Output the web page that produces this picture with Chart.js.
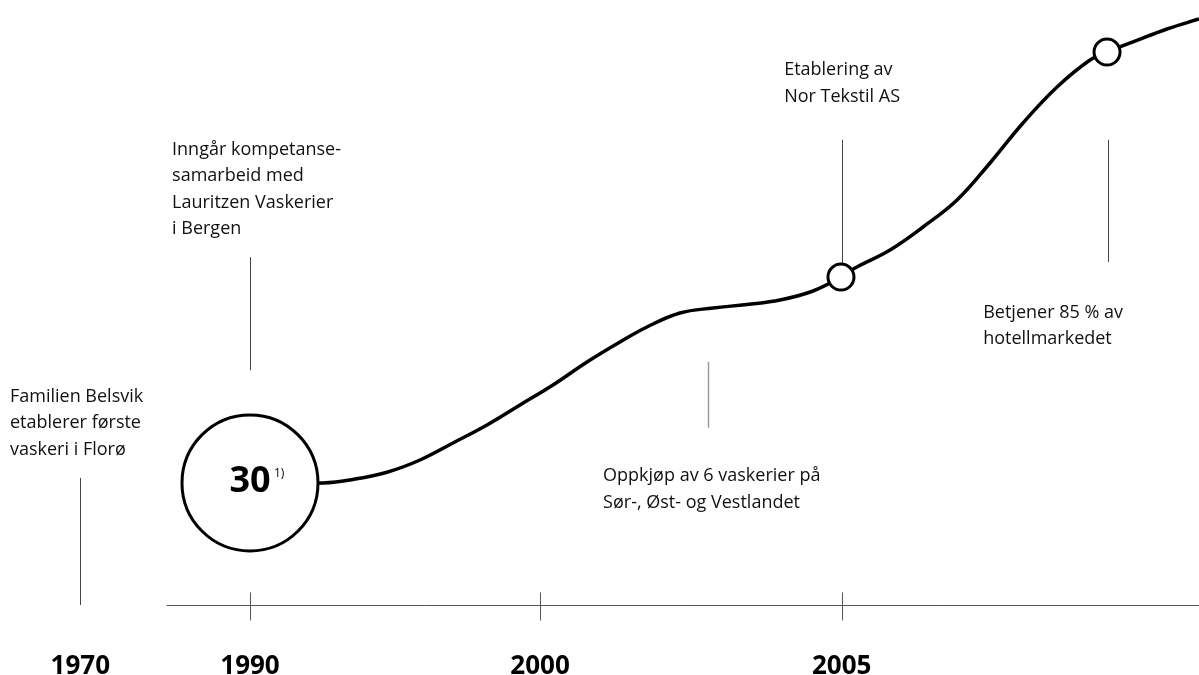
<!DOCTYPE html>
<html>
<head>
<meta charset="utf-8">
<script src="https://cdn.jsdelivr.net/npm/chart.js@4"></script>
<style>
  html, body { margin: 0; padding: 0; background: #fff; }
</style>
</head>
<body>
<canvas id="timeline-chart" width="1199" height="675"></canvas>
<script>
// curve, in timeline units (x 0-100 along the axis, y 0-100 above it)
const curveX = [20.85, 26.94, 29.44, 32.28, 35.03, 37.78, 40.62, 43.37, 46.12, 48.96, 51.71, 53.96, 56.71, 59.47, 62.30, 65.05, 67.81, 70.14, 71.31, 74.23, 76.98, 79.82, 82.57, 85.32, 88.16, 90.91, 92.33, 94.50, 97.33, 100];
const curveY = [20.17, 20.17, 20.75, 21.95, 23.97, 26.78, 29.75, 33.06, 36.36, 40.17, 43.47, 45.95, 48.26, 49.09, 49.67, 50.41, 51.90, 54.21, 55.70, 58.68, 62.48, 66.94, 73.06, 79.67, 85.62, 90.08, 91.40, 93.06, 95.21, 96.86];

// milestone circles on the curve
const milestoneX = [20.85, 70.14, 92.33];
const milestoneY = [20.17, 54.21, 91.40];
const milestoneSize = [68, 13, 13];

// x axis ticks
const tickPos = [6.7, 20.85, 45.04, 70.2];
const tickLabels = ['1970', '1990', '2000', '2005'];
const axisStart = 13.9;

// event notes: vertical marker and text
const noteX = [6.7, 20.85, 59.05, 70.2, 92.4];
const noteFrom = [0, 38.8, 29.3, 55.7, 56.7];
const noteTo = [21.0, 57.5, 40.2, 76.9, 76.9];
const noteText = [
  ['Familien Belsvik', 'etablerer første', 'vaskeri i Florø'],
  ['Inngår kompetanse-', 'samarbeid med', 'Lauritzen Vaskerier', 'i Bergen'],
  ['Oppkjøp av 6 vaskerier på', 'Sør-, Øst- og Vestlandet'],
  ['Etablering av', 'Nor Tekstil AS'],
  ['Betjener 85 % av', 'hotellmarkedet']
];
// layout of the note texts (left edge, first line centre) and marker colours
const noteTextLeft = [0.83, 14.35, 50.3, 65.4, 82.0];
const noteTextTop = [34.4, 75.2, 21.3, 88.4, 48.3];
const noteColor = ['#444', '#444', '#999', '#444', '#444'];

const bigValue = '30';
const bigNote = '1)';

const timelineDecor = {
  id: 'timelineDecor',
  beforeDatasetsDraw(chart) {
    const { ctx, scales: { x, y } } = chart;
    ctx.save();
    const y0 = Math.round(y.getPixelForValue(0)) + 0.5;

    // axis line
    ctx.strokeStyle = '#555';
    ctx.lineWidth = 1;
    ctx.beginPath();
    ctx.moveTo(x.getPixelForValue(axisStart), y0);
    ctx.lineTo(x.right, y0);
    ctx.stroke();

    // tick marks (1970 has none)
    tickPos.slice(1).forEach(v => {
      const px = Math.round(x.getPixelForValue(v)) + 0.5;
      ctx.beginPath();
      ctx.moveTo(px, y0 - 13);
      ctx.lineTo(px, y0 + 15);
      ctx.stroke();
    });

    // note markers and texts
    ctx.font = '18px "Open Sans"';
    ctx.textBaseline = 'middle';
    ctx.textAlign = 'left';
    noteX.forEach((v, i) => {
      const px = Math.round(x.getPixelForValue(v)) + 0.5;
      ctx.strokeStyle = noteColor[i];
      ctx.lineWidth = i === 2 ? 1.5 : 1;
      ctx.beginPath();
      ctx.moveTo(px, y.getPixelForValue(noteFrom[i]));
      ctx.lineTo(px, y.getPixelForValue(noteTo[i]));
      ctx.stroke();

      ctx.fillStyle = '#111';
      const tx = x.getPixelForValue(noteTextLeft[i]);
      const ty = y.getPixelForValue(noteTextTop[i]);
      noteText[i].forEach((line, j) => ctx.fillText(line, tx, ty + j * 26.3));
    });
    ctx.restore();
  },
  afterDatasetsDraw(chart) {
    const { ctx, scales: { x, y } } = chart;
    const cx = x.getPixelForValue(milestoneX[0]);
    const cy = y.getPixelForValue(milestoneY[0]);
    ctx.save();
    ctx.fillStyle = '#000';
    ctx.textBaseline = 'middle';
    ctx.textAlign = 'center';
    ctx.font = 'bold 36px "Open Sans"';
    ctx.fillText(bigValue, cx, cy - 1);
    ctx.textAlign = 'left';
    ctx.font = '12px "Open Sans"';
    ctx.fillText(bigNote, cx + 24, cy - 9);
    ctx.restore();
  }
};

const ctx = document.getElementById('timeline-chart').getContext('2d');
new Chart(ctx, {
  type: 'line',
  data: {
    datasets: [
      {
        type: 'scatter',
        data: milestoneX.map((v, i) => ({ x: v, y: milestoneY[i] })),
        pointRadius: milestoneSize,
        pointHoverRadius: milestoneSize,
        pointBackgroundColor: '#fff',
        pointBorderColor: '#000',
        pointBorderWidth: 3,
        order: 1
      },
      {
        data: curveX.map((v, i) => ({ x: v, y: curveY[i] })),
        borderColor: '#000',
        borderWidth: 3.5,
        pointRadius: 0,
        tension: 0.4,
        fill: false,
        order: 2
      }
    ]
  },
  options: {
    responsive: false,
    animation: false,
    events: [],
    layout: { padding: 0, autoPadding: false },
    plugins: { legend: { display: false }, tooltip: { enabled: false } },
    scales: {
      x: {
        type: 'linear',
        min: 0,
        max: 100,
        afterBuildTicks: axis => { axis.ticks = tickPos.map(v => ({ value: v })); },
        afterFit: axis => { axis.height = 70; },
        grid: { display: false, drawTicks: false },
        border: { display: false },
        ticks: {
          autoSkip: false,
          maxRotation: 0,
          padding: 46,
          color: '#000',
          font: { family: 'Open Sans', size: 26, weight: 'bold' },
          callback: v => tickLabels[tickPos.indexOf(v)]
        }
      },
      y: {
        display: false,
        min: 0,
        max: 100
      }
    }
  },
  plugins: [timelineDecor]
});
</script>
</body>
</html>
